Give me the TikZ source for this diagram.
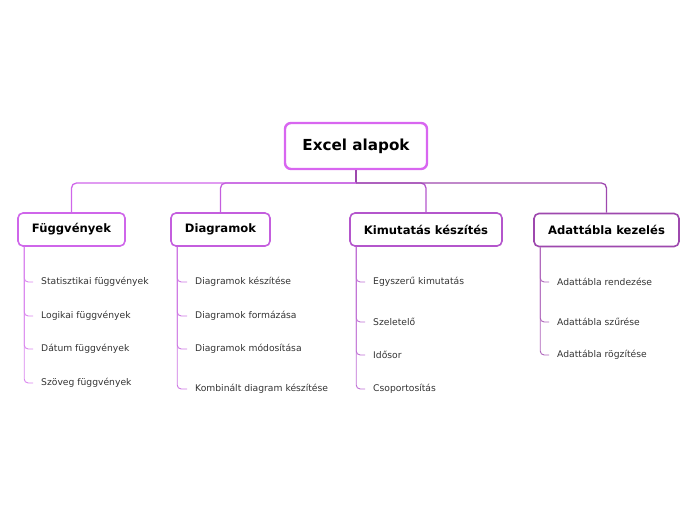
\documentclass[tikz,border=0pt]{standalone}
\usepackage{fontspec}
\setmainfont{DejaVu Sans}
\usetikzlibrary{positioning, calc}

\definecolor{rootc}{HTML}{D866F0}
\definecolor{funcc}{HTML}{CF66EA}
\definecolor{diagc}{HTML}{C45EDE}
\definecolor{kimuc}{HTML}{B456CC}
\definecolor{adatc}{HTML}{9E48AE}
\definecolor{leaftxt}{HTML}{333333}

\begin{document}
\begin{tikzpicture}[
        x=1pt, y=-1pt,
        % Stili dei nodi
        rootbox/.style={draw=rootc, line width=2.4pt, rounded corners=6pt, fill=white,
            minimum width=142pt, minimum height=46pt, font=\fontsize{15.2}{17}\selectfont\bfseries},
        topicbox/.style={draw=#1, line width=1.6pt, rounded corners=5pt, fill=white,
            minimum height=33pt, font=\fontsize{11.6}{13}\selectfont\bfseries},
        leaf/.style={anchor=west, inner sep=0pt, text=leaftxt, font=\fontsize{9.2}{11}\selectfont},
        % Stili delle linee
        bus/.style={draw=#1, line width=1.3pt, rounded corners=5pt},
        hook/.style={draw=#1, line width=0.9pt, rounded corners=4pt}
    ]
    \useasboundingbox (0,0) rectangle (696,520);

    \node[rootbox] (root) at (356,146) {Excel alapok};

    \node[topicbox=funcc, minimum width=107pt] (func) at (71.5,229.5) {Függvények};
    \node[topicbox=diagc, minimum width=99pt]  (diag) at (220.5,229.5) {Diagramok};
    \node[topicbox=kimuc, minimum width=152pt] (kimu) at (426,229.5) {Kimutatás készítés};
    \node[topicbox=adatc, minimum width=145pt] (adat) at (606.5,230) {Adattábla kezelés};

    % Rami principali
    \coordinate (hub) at (356,183);
    \draw[bus=adatc, rounded corners=0pt] (root.south) -- (hub);
    \draw[bus=funcc] (hub) -| (func.north);
    \draw[bus=diagc] (hub) -| (diag.north);
    \draw[bus=kimuc] (hub) -| (kimu.north);
    \draw[bus=adatc] (hub) -| (adat.north);

    % Foglie
    \node[leaf] (f1) at (41,282) {Statisztikai függvények};
    \node[leaf] (f2) at (41,316) {Logikai függvények};
    \node[leaf] (f3) at (41,349) {Dátum függvények};
    \node[leaf] (f4) at (41,383) {Szöveg függvények};

    \node[leaf] (d1) at (195,282) {Diagramok készítése};
    \node[leaf] (d2) at (195,316) {Diagramok formázása};
    \node[leaf] (d3) at (195,349) {Diagramok módosítása};
    \node[leaf] (d4) at (195,389) {Kombinált diagram készítése};

    \node[leaf] (k1) at (373,282) {Egyszerű kimutatás};
    \node[leaf] (k2) at (373,322) {Szeletelő};
    \node[leaf] (k3) at (373,355) {Idősor};
    \node[leaf] (k4) at (373,389) {Csoportosítás};

    \node[leaf] (a1) at (557,282) {Adattábla rendezése};
    \node[leaf] (a2) at (557,322) {Adattábla szűrése};
    \node[leaf] (a3) at (557,355) {Adattábla rögzítése};

    \foreach \n in {f1,f2,f3,f4}
        \draw[hook=funcc!80] ([xshift=7pt]func.south west) |- ([xshift=-8pt]\n.west);
    \foreach \n in {d1,d2,d3,d4}
        \draw[hook=diagc!85] ([xshift=7pt]diag.south west) |- ([xshift=-8pt]\n.west);
    \foreach \n in {k1,k2,k3,k4}
        \draw[hook=kimuc!85] ([xshift=7pt]kimu.south west) |- ([xshift=-8pt]\n.west);
    \foreach \n in {a1,a2,a3}
        \draw[hook=adatc!85] ([xshift=7pt]adat.south west) |- ([xshift=-8pt]\n.west);
\end{tikzpicture}
\end{document}
